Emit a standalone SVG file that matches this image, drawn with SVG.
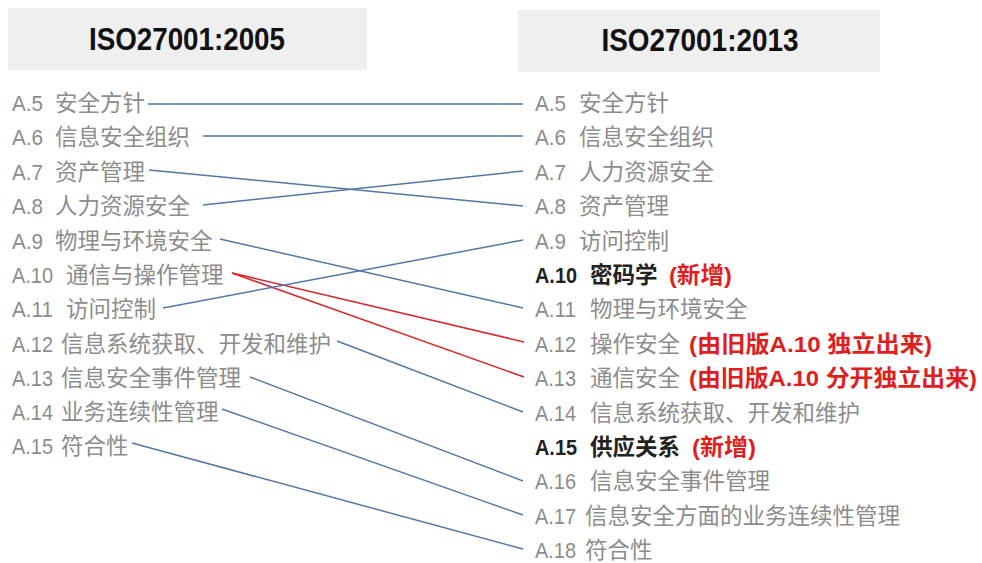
<svg xmlns="http://www.w3.org/2000/svg" width="982" height="563" viewBox="0 0 982 563">
<style>
.hdr{fill:#efefef}
.ht{font-family:"Liberation Sans","Noto Sans CJK SC",sans-serif;font-weight:bold;font-size:31px;fill:#111;text-anchor:middle}
.t{font-family:"Liberation Sans","Noto Sans CJK SC",sans-serif;font-size:22.5px;fill:#8c8c8c}
.b{font-weight:bold;fill:#222}
.r{font-weight:bold;fill:#e01e1e}
.bl{stroke:#5577a3;stroke-width:1.5;fill:none}
.rd{stroke:#d42a30;stroke-width:1.6;fill:none}
</style>
<rect width="982" height="563" fill="#fff"/>
<g id="header-2005"><rect class="hdr" x="8" y="8" width="359" height="62"/><text class="ht" x="187" y="50" textLength="196" lengthAdjust="spacingAndGlyphs">ISO27001:2005</text></g>
<g id="header-2013"><rect class="hdr" x="518" y="10" width="362" height="62"/><text class="ht" x="700" y="51" textLength="197" lengthAdjust="spacingAndGlyphs">ISO27001:2013</text></g>

<g id="connectors">
<line class="bl" x1="148" y1="104" x2="523" y2="104"/>
<line class="bl" x1="203" y1="136" x2="523" y2="136"/>
<line class="bl" x1="149" y1="170" x2="523" y2="206"/>
<line class="bl" x1="203" y1="205" x2="523" y2="171"/>
<line class="bl" x1="220" y1="239" x2="523" y2="308"/>
<line class="rd" x1="232" y1="273" x2="524" y2="342"/>
<line class="rd" x1="232" y1="273" x2="524" y2="377"/>
<line class="bl" x1="163" y1="308" x2="523" y2="240"/>
<line class="bl" x1="337" y1="341" x2="523" y2="412"/>
<line class="bl" x1="250" y1="377" x2="523" y2="481"/>
<line class="bl" x1="222" y1="409" x2="523" y2="515"/>
<line class="bl" x1="132" y1="443" x2="523" y2="549"/>
</g>

<g id="old-a5"><text class="t" y="111"><tspan x="12" textLength="31" lengthAdjust="spacingAndGlyphs">A.5</tspan><tspan x="55">安全方针</tspan></text></g>
<g id="old-a6"><text class="t" y="145"><tspan x="12" textLength="31" lengthAdjust="spacingAndGlyphs">A.6</tspan><tspan x="55">信息安全组织</tspan></text></g>
<g id="old-a7"><text class="t" y="180"><tspan x="12" textLength="31" lengthAdjust="spacingAndGlyphs">A.7</tspan><tspan x="55">资产管理</tspan></text></g>
<g id="old-a8"><text class="t" y="214"><tspan x="12" textLength="31" lengthAdjust="spacingAndGlyphs">A.8</tspan><tspan x="55">人力资源安全</tspan></text></g>
<g id="old-a9"><text class="t" y="249"><tspan x="12" textLength="31" lengthAdjust="spacingAndGlyphs">A.9</tspan><tspan x="55">物理与环境安全</tspan></text></g>
<g id="old-a10"><text class="t" y="283"><tspan x="12" textLength="41" lengthAdjust="spacingAndGlyphs">A.10</tspan><tspan x="66">通信与操作管理</tspan></text></g>
<g id="old-a11"><text class="t" y="317"><tspan x="12" textLength="41" lengthAdjust="spacingAndGlyphs">A.11</tspan><tspan x="66">访问控制</tspan></text></g>
<g id="old-a12"><text class="t" y="352"><tspan x="12" textLength="41" lengthAdjust="spacingAndGlyphs">A.12</tspan><tspan x="61">信息系统获取、开发和维护</tspan></text></g>
<g id="old-a13"><text class="t" y="386"><tspan x="12" textLength="41" lengthAdjust="spacingAndGlyphs">A.13</tspan><tspan x="61">信息安全事件管理</tspan></text></g>
<g id="old-a14"><text class="t" y="420"><tspan x="12" textLength="41" lengthAdjust="spacingAndGlyphs">A.14</tspan><tspan x="61">业务连续性管理</tspan></text></g>
<g id="old-a15"><text class="t" y="454"><tspan x="12" textLength="41" lengthAdjust="spacingAndGlyphs">A.15</tspan><tspan x="61">符合性</tspan></text></g>

<g id="new-a5"><text class="t" y="111"><tspan x="535" textLength="31" lengthAdjust="spacingAndGlyphs">A.5</tspan><tspan x="579">安全方针</tspan></text></g>
<g id="new-a6"><text class="t" y="145"><tspan x="535" textLength="31" lengthAdjust="spacingAndGlyphs">A.6</tspan><tspan x="579">信息安全组织</tspan></text></g>
<g id="new-a7"><text class="t" y="180"><tspan x="535" textLength="31" lengthAdjust="spacingAndGlyphs">A.7</tspan><tspan x="579">人力资源安全</tspan></text></g>
<g id="new-a8"><text class="t" y="214"><tspan x="535" textLength="31" lengthAdjust="spacingAndGlyphs">A.8</tspan><tspan x="579">资产管理</tspan></text></g>
<g id="new-a9"><text class="t" y="249"><tspan x="535" textLength="31" lengthAdjust="spacingAndGlyphs">A.9</tspan><tspan x="579">访问控制</tspan></text></g>
<g id="new-a10"><text class="t b" y="283"><tspan x="535" textLength="42" lengthAdjust="spacingAndGlyphs">A.10</tspan><tspan x="590">密码学</tspan></text><text class="t r" x="669" y="283" textLength="63" lengthAdjust="spacingAndGlyphs">(新增)</text></g>
<g id="new-a11"><text class="t" y="317"><tspan x="535" textLength="41" lengthAdjust="spacingAndGlyphs">A.11</tspan><tspan x="590">物理与环境安全</tspan></text></g>
<g id="new-a12"><text class="t" y="352"><tspan x="535" textLength="41" lengthAdjust="spacingAndGlyphs">A.12</tspan><tspan x="590">操作安全</tspan></text><text class="t r" x="689" y="352" textLength="243" lengthAdjust="spacingAndGlyphs">(由旧版A.10 独立出来)</text></g>
<g id="new-a13"><text class="t" y="386"><tspan x="535" textLength="41" lengthAdjust="spacingAndGlyphs">A.13</tspan><tspan x="590">通信安全</tspan></text><text class="t r" x="689" y="386" textLength="288" lengthAdjust="spacingAndGlyphs">(由旧版A.10 分开独立出来)</text></g>
<g id="new-a14"><text class="t" y="421"><tspan x="535" textLength="41" lengthAdjust="spacingAndGlyphs">A.14</tspan><tspan x="590">信息系统获取、开发和维护</tspan></text></g>
<g id="new-a15"><text class="t b" y="455"><tspan x="535" textLength="42" lengthAdjust="spacingAndGlyphs">A.15</tspan><tspan x="590">供应关系</tspan></text><text class="t r" x="692" y="455" textLength="64" lengthAdjust="spacingAndGlyphs">(新增)</text></g>
<g id="new-a16"><text class="t" y="489"><tspan x="535" textLength="41" lengthAdjust="spacingAndGlyphs">A.16</tspan><tspan x="590">信息安全事件管理</tspan></text></g>
<g id="new-a17"><text class="t" y="524"><tspan x="535" textLength="41" lengthAdjust="spacingAndGlyphs">A.17</tspan><tspan x="585">信息安全方面的业务连续性管理</tspan></text></g>
<g id="new-a18"><text class="t" y="558"><tspan x="535" textLength="41" lengthAdjust="spacingAndGlyphs">A.18</tspan><tspan x="585">符合性</tspan></text></g>
</svg>
